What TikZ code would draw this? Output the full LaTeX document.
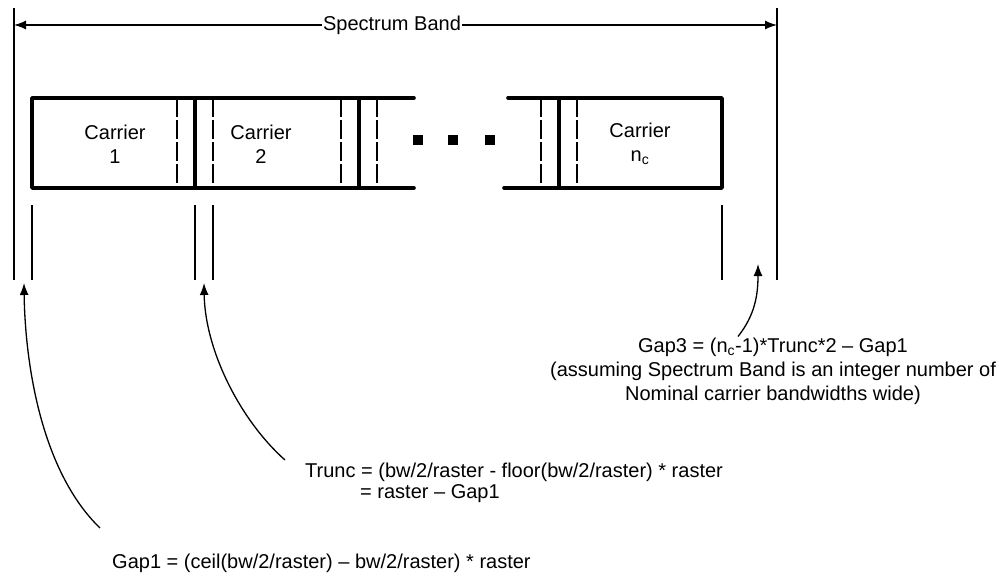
\documentclass[tikz,border=0pt]{standalone}
\usepackage{fontspec}
\setmainfont{Liberation Sans}
\usetikzlibrary{arrows.meta}
\usetikzlibrary{positioning,calc}

\begin{document}
\begin{tikzpicture}[x=1pt,y=-1pt,>=Latex,line join=round]
% -------------------------------------------------
% Styles
% -------------------------------------------------
\tikzset{
  bandline/.style={line width=1.6pt},
  edgeline/.style={line width=3.6pt, line cap=round},
  sepline/.style={line width=3.4pt},
  gapline/.style={line width=1.4pt, dash pattern=on 19pt off 3pt},
  tickline/.style={line width=1.8pt},
  txt/.style={font=\fontsize{20}{24}\selectfont, inner sep=0pt},
  pointer/.style={-{Latex[length=12pt,width=9pt]}, line width=1.3pt},
}
\useasboundingbox (0,0) rectangle (999,584);
% -------------------------------------------------
% Spectrum band
% -------------------------------------------------
\draw[bandline] (14,8) -- (14,280);
\draw[bandline] (777,8) -- (777,280);
\coordinate (bandL) at (14,25);
\coordinate (bandR) at (777,25);
\node[txt,fill=white,inner sep=1pt] (band) at (392,25) {Spectrum Band};
\draw[pointer] (band.west) -- (bandL);
\draw[pointer] (band.east) -- (bandR);
% -------------------------------------------------
% Carriers
% -------------------------------------------------
\draw[edgeline] (414,98) -- (32,98) -- (32,188) -- (414,188);
\draw[edgeline] (508,98) -- (722,98) -- (722,188) -- (504,188);
\foreach \x in {195,359,559}{
  \draw[sepline] (\x,98) -- (\x,188);
}
\foreach \x in {177,213,341,377,541,577}{
  \draw[gapline] (\x,98) -- (\x,188);
}
\foreach \x in {418,453,490}{
  \fill (\x-5,135) rectangle (\x+5,145);
}
\node[txt,align=center] (car1) at (115,144) {Carrier\\1};
\node[txt,align=center] (car2) at (261,144) {Carrier\\2};
\node[txt,align=center] (carn) at (640,144) {Carrier\\n\textsubscript{c}};
% -------------------------------------------------
% Gap markers
% -------------------------------------------------
\foreach \x in {32,195,213,722}{
  \draw[tickline] (\x,205) -- (\x,280);
}
\coordinate (gap1tip) at (24,283);
\coordinate (trunctip) at (204,283);
\coordinate (gap3tip) at (758,264);
% -------------------------------------------------
% Formulas
% -------------------------------------------------
\node[txt,align=center] (gap3) at (773,371) {Gap3 = (n\textsubscript{c}-1)*Trunc*2 – Gap1\\(assuming Spectrum Band is an integer number of\\Nominal carrier bandwidths wide)};
\node[txt,anchor=west] (trunc) at (305,472) {Trunc = (bw/2/raster - floor(bw/2/raster) * raster};
\node[txt,anchor=west] (trunc2) at (360,494) {= raster – Gap1};
\node[txt,anchor=west] (gap1) at (112,563) {Gap1 = (ceil(bw/2/raster) – bw/2/raster) * raster};

\draw[pointer] ([shift={(-12,-35)}]gap1.west) .. controls (40,470) and (25,360) .. (gap1tip);
\draw[pointer] ([shift={(-20,-12)}]trunc.west) .. controls (240,420) and (205,350) .. (trunctip);
\draw[pointer] ([shift={(-35,-1)}]gap3.north) .. controls (755,315) and (758,295) .. (gap3tip);

\end{tikzpicture}
\end{document}
